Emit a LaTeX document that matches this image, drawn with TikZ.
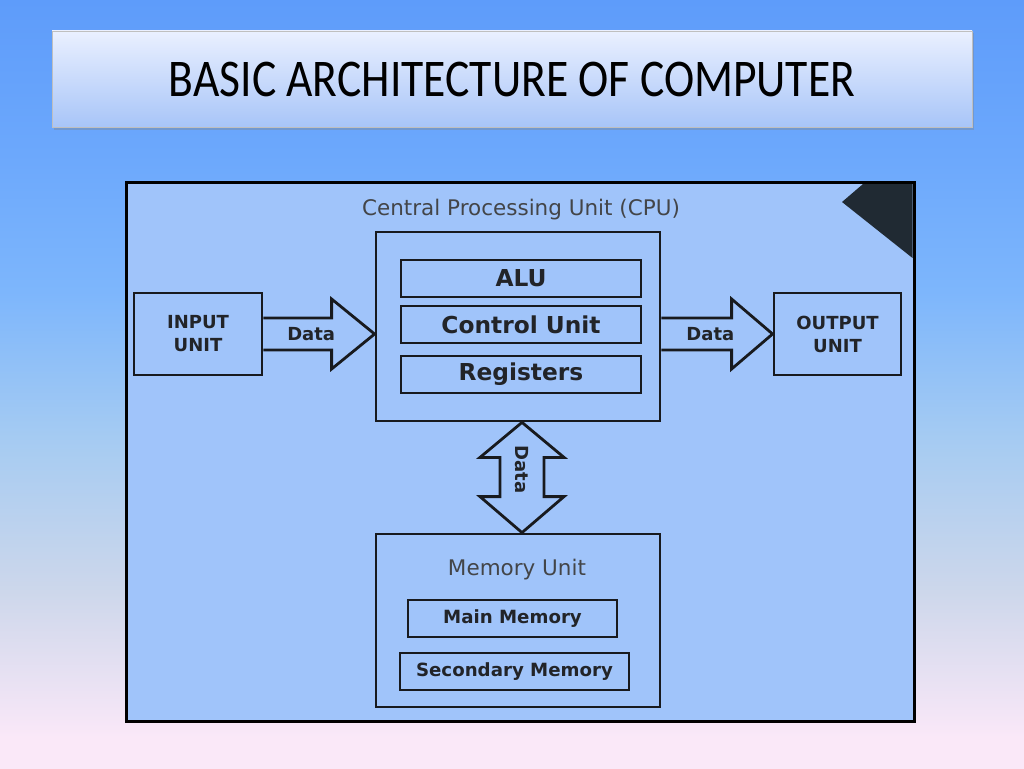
\documentclass[tikz,border=0pt]{standalone}
\usepackage{fontspec}
\newfontfamily\titlefont{Carlito}
\newfontfamily\dv{DejaVu Sans}
\usetikzlibrary{calc,shadows}
\definecolor{bgtop}{RGB}{94,156,250}
\definecolor{bgb}{RGB}{108,168,252}
\definecolor{bgc}{RGB}{125,182,252}
\definecolor{bgd}{RGB}{165,203,242}
\definecolor{bge}{RGB}{205,215,235}
\definecolor{bgbot}{RGB}{250,232,248}
\definecolor{ttop}{RGB}{234,240,255}
\definecolor{tbot}{RGB}{168,197,248}
\definecolor{panel}{RGB}{160,196,250}
\definecolor{dark}{RGB}{32,42,51}
\definecolor{ink}{RGB}{24,26,30}
\definecolor{txt}{RGB}{34,36,40}
\pgfdeclareverticalshading{bgshade}{100bp}{color(0bp)=(bgbot); color(27bp)=(bgbot); color(36.5bp)=(bge); color(46.5bp)=(bgd); color(56bp)=(bgc); color(65bp)=(bgb); color(75bp)=(bgtop); color(100bp)=(bgtop)}
\tikzset{
  titlebox/.style={draw=gray!50, line width=0.8pt, top color=ttop, bottom color=tbot,
    minimum width=920, minimum height=96, inner sep=0,
    drop shadow={opacity=0.35, shadow xshift=1.5pt, shadow yshift=-2.5pt}},
  frame/.style={draw=black, fill=panel, line width=3pt, minimum width=788, minimum height=539, inner sep=0},
  bigbox/.style={draw=ink, line width=2.8pt, inner sep=0},
  unitbox/.style={draw=ink, line width=2.8pt, inner sep=0, minimum height=37,
    font=\dv\bfseries\fontsize{23.3}{26}\selectfont, text=txt},
  iobox/.style={draw=ink, line width=2.8pt, inner sep=0, minimum width=128, minimum height=82,
    align=center, font=\dv\bfseries\fontsize{18}{23}\selectfont, text=txt},
  memitem/.style={draw=ink, line width=2.8pt, inner sep=0, minimum height=37,
    font=\dv\bfseries\fontsize{18.2}{20}\selectfont, text=txt},
  plainlabel/.style={font=\dv\fontsize{21.5}{24}\selectfont, text=txt!85},
  datalabel/.style={font=\dv\bfseries\fontsize{18}{20}\selectfont, text=txt, inner sep=0},
  bigarrow/.style={draw=ink, line width=2.8pt, line join=miter},
}
\begin{document}
\begin{tikzpicture}[x=1pt,y=-1pt]
\useasboundingbox (0,0) rectangle (1024,768);
\shade[shading=bgshade] (0,0) rectangle (1024,768);

\node[titlebox] (title) at (512,79) {\scalebox{0.86}[1]{\titlefont\fontsize{53}{60}\selectfont BASIC ARCHITECTURE OF COMPUTER}};

\node[frame] (frame) at (520,451.5) {};
\fill[dark] (842,202) -- (863,184) -- (912.5,184) -- (912.5,258) -- cycle;

\node[plainlabel] (cpulabel) at (521,210) {Central Processing Unit (CPU)};
\node[bigbox, minimum width=284, minimum height=189] (cpu) at (518,326.5) {};
\node[unitbox, minimum width=240] (alu) at (521,278.5) {ALU};
\node[unitbox, minimum width=240] (cu) at (521,324.5) {Control Unit};
\node[unitbox, minimum width=240] (reg) at (521,374.5) {Registers};

\node[iobox] (inp) at (198,334) {INPUT\\UNIT};
\node[iobox, minimum width=127] (out) at (837.5,334) {OUTPUT\\UNIT};

\node[bigbox, minimum width=284, minimum height=173] (mem) at (518,620.5) {};
\node[plainlabel] (memlabel) at (517,570) {Memory Unit};
\node[memitem, minimum width=209] (mm) at (512.5,618.5) {Main Memory};
\node[memitem, minimum width=229] (sm) at (514.5,671.5) {Secondary Memory};

% input arrow
\coordinate (t1) at (inp.east);
\coordinate (h1) at (cpu.west |- t1);
\draw[bigarrow] ($(t1)+(0,-16)$) -- ($(h1)+(-43,-16)$) -- ($(h1)+(-43,-35)$) -- (h1)
  -- ($(h1)+(-43,35)$) -- ($(h1)+(-43,16)$) -- ($(t1)+(0,16)$);
\node[datalabel] (d1) at ($(t1)!0.43!(h1)$) {Data};

% output arrow
\coordinate (h2) at (out.west);
\coordinate (t2) at (cpu.east |- h2);
\draw[bigarrow] ($(t2)+(0,-16)$) -- ($(h2)+(-41,-16)$) -- ($(h2)+(-41,-35)$) -- (h2)
  -- ($(h2)+(-41,35)$) -- ($(h2)+(-41,16)$) -- ($(t2)+(0,16)$);
\node[datalabel] (d2) at ($(t2)!0.44!(h2)$) {Data};

% vertical double arrow
\coordinate (v1) at ($(cpu.south)+(4,0)$);
\coordinate (v2) at ($(mem.north)+(4,0)$);
\draw[bigarrow] (v1) -- ($(v1)+(42,35)$) -- ($(v1)+(22,35)$) -- ($(v2)+(22,-36)$) -- ($(v2)+(42,-36)$)
  -- (v2) -- ($(v2)+(-42,-36)$) -- ($(v2)+(-22,-36)$) -- ($(v1)+(-22,35)$) -- ($(v1)+(-42,35)$) -- cycle;
\node[datalabel, rotate=-90] (d3) at ($(v1)!0.43!(v2)$) {Data};
\end{tikzpicture}
\end{document}
